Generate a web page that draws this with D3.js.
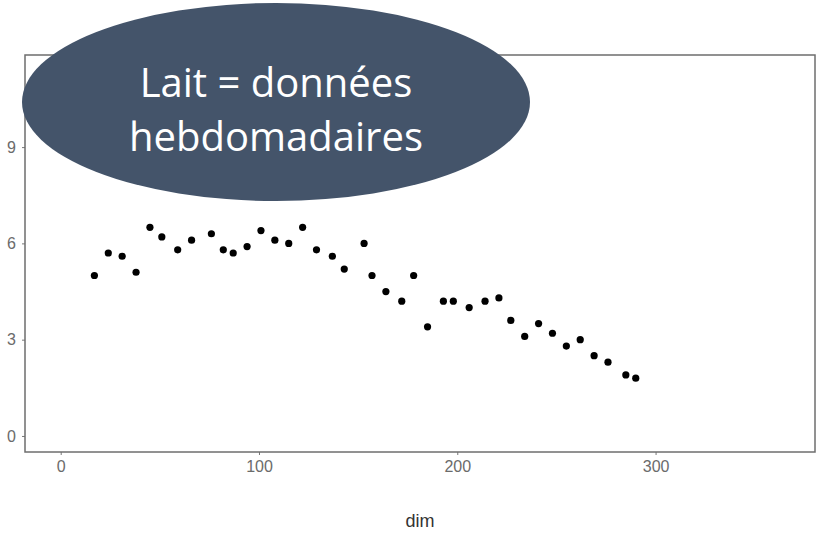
<!DOCTYPE html>
<html>
<head>
<meta charset="utf-8">
<script src="https://cdn.jsdelivr.net/npm/d3@7"></script>
<style>
  body { margin: 0; background: #fff; }
  .tick text { font-family: "Liberation Sans", Arial, sans-serif; fill: #6b6b6b; }
  .tick line { stroke: #777; }
</style>
</head>
<body>
<div id="chart"></div>
<script>
// weekly milk records: day in milk vs value
var dim = [17, 24, 31, 38, 45, 51, 59, 66, 76, 82, 87, 94, 101, 108, 115, 122, 129, 137, 143, 153,
           157, 164, 172, 178, 185, 193, 198, 206, 214, 221, 227, 234, 241, 248, 255, 262, 269, 276, 285, 290];
var lait = [5.0, 5.7, 5.6, 5.1, 6.5, 6.2, 5.8, 6.1, 6.3, 5.8, 5.7, 5.9, 6.4, 6.1, 6.0, 6.5, 5.8, 5.6, 5.2, 6.0,
            5.0, 4.5, 4.2, 5.0, 3.4, 4.2, 4.2, 4.0, 4.2, 4.3, 3.6, 3.1, 3.5, 3.2, 2.8, 3.0, 2.5, 2.3, 1.9, 1.8];
var xTicks = [0, 100, 200, 300];
var yTicks = [0, 3, 6, 9];
var xLabel = "dim";
var noteLines = ["Lait = données", "hebdomadaires"];

var W = 820, H = 534;
var panel = { left: 25, right: 815, top: 55, bottom: 452 };

var svg = d3.select("#chart").append("svg")
    .attr("width", W)
    .attr("height", H);

var x = d3.scaleLinear()
    .domain([-18, 380.4])
    .range([panel.left, panel.right]);

var y = d3.scaleLinear()
    .domain([-0.5, 11.87])
    .range([panel.bottom, panel.top]);

// axes
var gX = svg.append("g")
    .attr("transform", "translate(0," + panel.bottom + ")")
    .call(d3.axisBottom(x).tickValues(xTicks).tickSize(3).tickPadding(6));
gX.select(".domain").remove();
gX.selectAll("text").style("font-size", "16px");

var gY = svg.append("g")
    .attr("transform", "translate(" + panel.left + ",0)")
    .call(d3.axisLeft(y).tickValues(yTicks).tickSize(3).tickPadding(6));
gY.select(".domain").remove();
gY.selectAll("text").style("font-size", "16px");

// panel border
svg.append("rect")
    .attr("x", panel.left)
    .attr("y", panel.top)
    .attr("width", panel.right - panel.left)
    .attr("height", panel.bottom - panel.top)
    .attr("fill", "none")
    .attr("stroke", "#6e6e6e")
    .attr("stroke-width", 1.5);

svg.append("text")
    .attr("x", (panel.left + panel.right) / 2)
    .attr("y", 527)
    .attr("text-anchor", "middle")
    .style("font-family", "Liberation Sans, Arial, sans-serif")
    .style("font-size", "18px")
    .style("fill", "#333")
    .text(xLabel);

// points
svg.append("g")
    .selectAll("circle")
    .data(dim)
    .enter()
    .append("circle")
    .attr("cx", function (d) { return x(d); })
    .attr("cy", function (d, i) { return y(lait[i]); })
    .attr("r", 3.6)
    .attr("fill", "#000");

// callout ellipse
var note = svg.append("g");
note.append("ellipse")
    .attr("cx", 276)
    .attr("cy", 102)
    .attr("rx", 254)
    .attr("ry", 99)
    .attr("fill", "#44546a");

var noteText = note.selectAll("text")
    .data(noteLines)
    .enter()
    .append("text")
    .attr("x", 276)
    .attr("y", function (d, i) { return 97 + i * 54; })
    .attr("text-anchor", "middle")
    .style("font-family", "Open Sans, sans-serif")
    .style("font-size", "36px")
    .style("fill", "#fff")
    .text(function (d) { return d; });

// fit the second line to roughly 294px wide like the slide
var w2 = noteText.filter(function (d, i) { return i == 1; }).node().getComputedTextLength();
noteText.style("font-size", (36 * 294 / w2) + "px");
</script>
</body>
</html>
